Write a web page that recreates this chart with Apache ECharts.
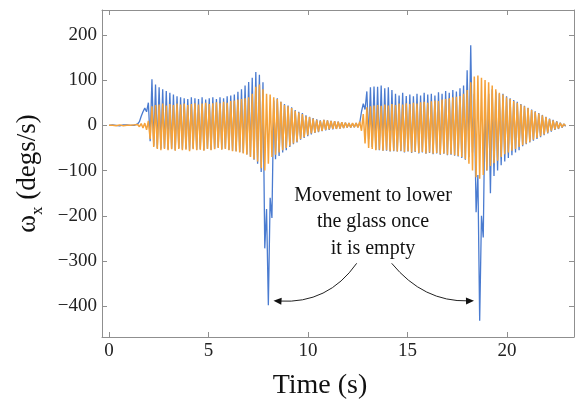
<!DOCTYPE html>
<html><head><meta charset="utf-8">
<script src="https://cdn.jsdelivr.net/npm/echarts@6/dist/echarts.min.js"></script>
<style>html,body{margin:0;padding:0;background:#fff}#c{width:575px;height:400px}</style>
</head><body><div id="c"></div>
<script>
// sampling clock of the recording (s)
const sampleInterval = 0.09;
const xTicks = [0, 5, 10, 15, 20];
const yTicks = [-400, -300, -200, -100, 0, 100, 200];
const xTitle = 'Time (s)';
const annotationText = 'Movement to lower\nthe glass once\nit is empty';

const blueValues = [
  0, 0, 1, 0, 0, 1, -1, 0, 1, 0,
  1, 0, 0, 1, 0, 1, 3, 8, 20, 30,
  38, 30, 50, -35, 102, -45, 90, -50, 84, -52,
  80, -50, 76, -53, 72, -52, 68, -55, 64, -50,
  62, -53, 60, -52, 58, -55, 62, -51, 60, -54,
  58, -53, 62, -55, 57, -51, 60, -54, 62, -52,
  58, -49, 62, -53, 60, -51, 64, -54, 66, -56,
  68, -57, 74, -59, 80, -61, 88, -64, 96, -69,
  105, -76, 118, -85, 112, -103, 95, -272, -185, -398,
  -160, -205, 55, -75, 60, -68, 52, -60, 47, -55,
  44, -48, 40, -42, 34, -38, 30, -32, 27, -28,
  22, -24, 19, -20, 16, -17, 13, -15, 11, -13,
  12, -11, 11, -10, 10, -9, 9, -8, 8, -7,
  7, -6, 6, -5, 5, -5, 4, -4, 5, -4,
  5, 30, 48, 35, 75, -30, 84, -48, 86, -54,
  85, -55, 88, -56, 82, -56, 84, -58, 78, -57,
  70, -58, 66, -57, 72, -60, 65, -58, 68, -61,
  64, -59, 70, -62, 66, -60, 72, -63, 68, -61,
  70, -64, 66, -62, 73, -65, 70, -63, 76, -66,
  72, -65, 78, -67, 75, -69, 82, -72, 88, -76,
  122, -70, 177, -60, 70, -192, -110, -432, -200, -248,
  60, -100, 70, -150, 80, -112, 75, -100, 70, -88,
  70, -80, 64, -72, 60, -66, 56, -60, 52, -55,
  47, -46, 43, -42, 39, -38, 35, -34, 31, -30,
  27, -26, 23, -22, 19, -18, 15, -14, 12, -10,
  9, -8, 6, -5, 3, -2
];

const orangeValues = [
  0, 1, 0, 1, -1, 0, 1, 0, -1, 1,
  0, 1, 0, -1, 1, 0, 2, -3, 4, -6,
  5, -10, 10, -30, 42, -48, 45, -52, 46, -55,
  48, -52, 44, -55, 47, -53, 45, -56, 48, -52,
  46, -55, 48, -54, 45, -57, 47, -53, 49, -55,
  46, -54, 48, -56, 50, -52, 47, -55, 49, -53,
  51, -50, 49, -54, 52, -52, 50, -55, 54, -57,
  55, -58, 57, -60, 58, -62, 60, -65, 62, -70,
  70, -75, 85, -80, 90, -95, 80, -100, 70, -85,
  68, -70, 62, -65, 58, -60, 52, -55, 45, -50,
  42, -45, 38, -40, 32, -36, 28, -30, 25, -26,
  20, -22, 18, -18, 15, -16, 12, -14, 10, -12,
  12, -10, 11, -9, 10, -8, 9, -8, 8, -7,
  7, -6, 6, -5, 5, -5, 5, -4, 5, -5,
  8, -12, 25, -40, 40, -50, 42, -52, 44, -55,
  45, -54, 43, -56, 46, -55, 44, -57, 47, -56,
  45, -58, 48, -56, 46, -59, 49, -57, 47, -60,
  50, -58, 48, -61, 51, -59, 52, -62, 50, -60,
  53, -63, 55, -61, 54, -64, 57, -62, 58, -65,
  60, -64, 62, -66, 63, -68, 65, -70, 70, -75,
  78, -85, 95, -100, 108, -115, 110, -118, 105, -110,
  100, -100, 95, -90, 88, -84, 80, -78, 72, -70,
  68, -64, 62, -60, 58, -56, 54, -52, 50, -48,
  46, -44, 42, -40, 38, -36, 34, -32, 30, -28,
  26, -24, 22, -20, 18, -16, 14, -12, 11, -9,
  8, -7, 5, -4, 3, -1
];

const SERIF = '"Liberation Serif", "Times New Roman", serif';
const FRAME = '#8f8f8f';
const X_MIN = -0.35, X_MAX = 23.37, Y_MIN = -468, Y_MAX = 255;

function toPairs(vals) {
  return vals.map((v, i) => [Math.round(i * sampleInterval * 100) / 100, v]);
}

function axisBase(extra) {
  return Object.assign({
    type: 'value',
    axisLine: { show: true, onZero: false, lineStyle: { color: FRAME, width: 1 } },
    axisTick: { show: true, inside: true, length: 5, lineStyle: { color: FRAME } },
    splitLine: { show: false }
  }, extra);
}

const chart = echarts.init(document.getElementById('c'), null, { renderer: 'canvas' });

function arrowEls(x0, y0, cx, cy, x1, y1) {
  const dx = x1 - cx, dy = y1 - cy;
  const len = Math.sqrt(dx * dx + dy * dy);
  const ux = dx / len, uy = dy / len;
  const hl = 8, hw = 3.5;
  const bx = x1 - ux * hl, by = y1 - uy * hl;
  return [
    { type: 'bezierCurve', silent: true,
      shape: { x1: x0, y1: y0, cpx1: cx, cpy1: cy, x2: bx + ux * 2, y2: by + uy * 2 },
      style: { stroke: '#222', lineWidth: 1, fill: null } },
    { type: 'polygon', silent: true,
      shape: { points: [[x1, y1], [bx - uy * hw, by + ux * hw], [bx + uy * hw, by - ux * hw]] },
      style: { fill: '#111' } }
  ];
}

const option = {
  animation: false,
  backgroundColor: '#fff',
  grid: { left: 102, right: 1, top: 10, bottom: 63, outerBoundsMode: 'none', containLabel: false },
  xAxis: [
    axisBase({
      min: X_MIN, max: X_MAX, position: 'bottom',
      axisTick: { show: true, inside: true, length: 5, customValues: xTicks, lineStyle: { color: FRAME } },
      axisLabel: { customValues: xTicks, fontFamily: SERIF, fontSize: 19, color: '#222', margin: 5 },
      name: xTitle, nameLocation: 'middle', nameGap: 35,
      nameTextStyle: { fontFamily: SERIF, fontSize: 28, color: '#111', padding: [0, 36, 0, 0] }
    }),
    axisBase({
      min: X_MIN, max: X_MAX, position: 'top',
      axisTick: { show: true, inside: true, length: 5, customValues: xTicks, lineStyle: { color: FRAME } },
      axisLabel: { show: false }
    })
  ],
  yAxis: [
    axisBase({
      min: Y_MIN, max: Y_MAX, position: 'left',
      axisTick: { show: true, inside: true, length: 5, customValues: yTicks, lineStyle: { color: FRAME } },
      axisLabel: {
        customValues: yTicks, fontFamily: SERIF, fontSize: 19, color: '#222', margin: 5,
        formatter: v => (v < 0 ? '\u2212' + Math.abs(v) : String(v))
      },
      name: '{w|ω}{s|x}{t| (degs/s)}', nameLocation: 'middle', nameRotate: 90, nameGap: 56,
      nameTextStyle: {
        fontFamily: SERIF, fontSize: 27, color: '#111',
        rich: {
          w: { fontFamily: SERIF, fontSize: 27, color: '#111' },
          s: { fontFamily: SERIF, fontSize: 17, color: '#111', padding: [20, 0, 0, 0] },
          t: { fontFamily: SERIF, fontSize: 27, color: '#111' }
        }
      }
    }),
    axisBase({
      min: Y_MIN, max: Y_MAX, position: 'right',
      axisTick: { show: true, inside: true, length: 5, customValues: yTicks, lineStyle: { color: FRAME } },
      axisLabel: { show: false }
    })
  ],
  series: [
    { name: 'blue', type: 'line', xAxisIndex: 0, yAxisIndex: 0, data: toPairs(blueValues),
      showSymbol: false, symbol: 'none',
      lineStyle: { color: '#4a7bd0', width: 1.3 }, z: 2 },
    { name: 'orange', type: 'line', xAxisIndex: 0, yAxisIndex: 0, data: toPairs(orangeValues),
      showSymbol: false, symbol: 'none',
      lineStyle: { color: '#f5a23a', width: 1.5 }, z: 3 }
  ],
  graphic: [
    { type: 'text', silent: true, x: 373, y: 222,
      style: { text: annotationText, font: '20px ' + SERIF, fill: '#111',
               align: 'center', verticalAlign: 'middle', textAlign: 'center', textVerticalAlign: 'middle',
               lineHeight: 26.5 } }
  ].concat(arrowEls(356.7, 263.3, 328, 304, 273.5, 300.7))
   .concat(arrowEls(391.7, 263.3, 423.5, 302, 474, 300.7))
};
chart.setOption(option);
</script>
</body></html>
